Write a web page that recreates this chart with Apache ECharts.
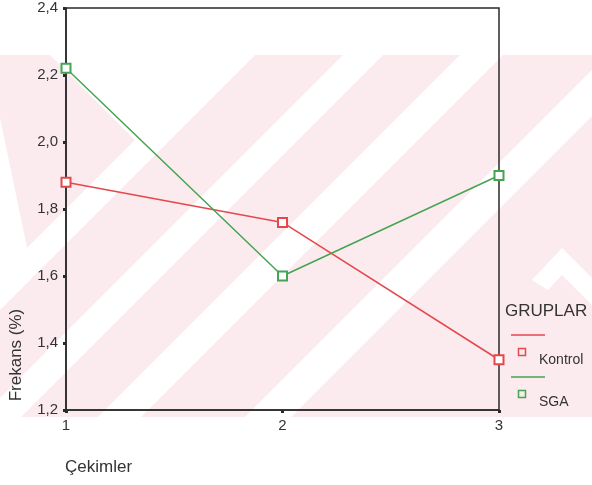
<!DOCTYPE html>
<html><head><meta charset="utf-8">
<script src="https://cdn.jsdelivr.net/npm/echarts/dist/echarts.min.js"></script>
<style>html,body{margin:0;padding:0;background:#fff}#c{width:592px;height:485px}</style>
</head><body><div id="c"></div>
<script>
// ---- data ----
const categories = ['1', '2', '3'];
const kontrol = [1.88, 1.76, 1.35];
const sga = [2.22, 1.60, 1.90];
const yMin = 1.2, yMax = 2.4, yStep = 0.2;
const seriesNames = ['Kontrol', 'SGA'];
const legendTitle = 'GRUPLAR';
const xTitle = 'Çekimler';
const yTitle = 'Frekans (%)';

// ---- style ----
const RED = '#e4474c', GREEN = '#45a452', INK = '#2a2a2a', TXT = '#333333';
const PINK = '#fcebee';
const FONT = 'Liberation Sans, Arial, sans-serif';
const bandTop = 55, bandBot = 417;
function stripe(c1, c2) {
  return {type: 'polygon', silent: true, z: -100,
    shape: {points: [[c1 - bandTop, bandTop], [c2 - bandTop, bandTop], [c2 - bandBot, bandBot], [c1 - bandBot, bandBot]]},
    style: {fill: '#ffffff'}};
}
const watermark = [
  {type: 'rect', silent: true, z: -101, shape: {x: 0, y: bandTop, width: 592, height: bandBot - bandTop}, style: {fill: PINK}},
  {type: 'polygon', silent: true, z: -100, shape: {points: [[50, bandTop], [232, bandTop], [141, 146]]}, style: {fill: '#fff'}},
  {type: 'polygon', silent: true, z: -100, shape: {points: [[0, 118], [30, 262], [0, 300]]}, style: {fill: '#fff'}},
  {type: 'polygon', silent: true, z: -100, shape: {points: [[532, 280], [562, 248], [592, 278], [592, 305], [562, 275], [548, 290]]}, style: {fill: '#fff'}},
  stripe(275, 310), stripe(398, 438), stripe(515, 558), stripe(662, 708)
];

const legendG = [
  {type: 'text', z: 10, left: 505, top: 303, style: {text: legendTitle, font: '17px ' + FONT, fill: TXT}},
  {type: 'line', z: 10, shape: {x1: 511, y1: 335, x2: 545, y2: 335}, style: {stroke: RED, lineWidth: 1.5}},
  {type: 'rect', z: 10, shape: {x: 518.5, y: 348.5, width: 7, height: 7}, style: {fill: 'none', stroke: RED, lineWidth: 1.5}},
  {type: 'text', z: 10, left: 539, top: 353, style: {text: seriesNames[0], font: '14px ' + FONT, fill: TXT}},
  {type: 'line', z: 10, shape: {x1: 511, y1: 377, x2: 545, y2: 377}, style: {stroke: GREEN, lineWidth: 1.5}},
  {type: 'rect', z: 10, shape: {x: 518.5, y: 390.5, width: 7, height: 7}, style: {fill: 'none', stroke: GREEN, lineWidth: 1.5}},
  {type: 'text', z: 10, left: 539, top: 395, style: {text: seriesNames[1], font: '14px ' + FONT, fill: TXT}},
  {type: 'text', z: 10, x: 16, y: 355, rotation: Math.PI / 2,
    style: {text: yTitle, font: '17px ' + FONT, fill: TXT, textAlign: 'center', textVerticalAlign: 'middle'}},
  {type: 'text', z: 10, left: 65, top: 459, style: {text: xTitle, font: '17px ' + FONT, fill: TXT}}
];

const chart = echarts.init(document.getElementById('c'), null, {renderer: 'canvas'});
chart.setOption({
  backgroundColor: '#ffffff',
  animation: false,
  grid: {left: 66, right: 93, top: 8, bottom: 75, show: true, borderColor: INK, borderWidth: 1.5, backgroundColor: 'transparent'},
  xAxis: {
    type: 'category', data: categories, boundaryGap: false,
    axisLine: {lineStyle: {color: INK, width: 1.5}},
    axisTick: {alignWithLabel: true, length: 3, lineStyle: {color: INK, width: 3}},
    axisLabel: {color: TXT, fontSize: 15, fontFamily: FONT, margin: 8},
    splitLine: {show: false}
  },
  yAxis: {
    type: 'value', min: yMin, max: yMax, interval: yStep,
    axisLine: {show: true, lineStyle: {color: INK, width: 1.5}},
    axisTick: {show: true, length: 3, lineStyle: {color: INK, width: 3}},
    axisLabel: {color: TXT, fontSize: 15, fontFamily: FONT, margin: 8,
      formatter: v => v.toFixed(1).replace('.', ',')},
    splitLine: {show: false}
  },
  graphic: watermark.concat(legendG),
  series: [
    {name: seriesNames[0], type: 'line', data: kontrol, symbol: 'emptyRect', symbolSize: 9,
      lineStyle: {color: RED, width: 1.5}, itemStyle: {color: RED, borderColor: RED, borderWidth: 1.5}},
    {name: seriesNames[1], type: 'line', data: sga, symbol: 'emptyRect', symbolSize: 9,
      lineStyle: {color: GREEN, width: 1.5}, itemStyle: {color: GREEN, borderColor: GREEN, borderWidth: 1.5}}
  ]
});
</script></body></html>
